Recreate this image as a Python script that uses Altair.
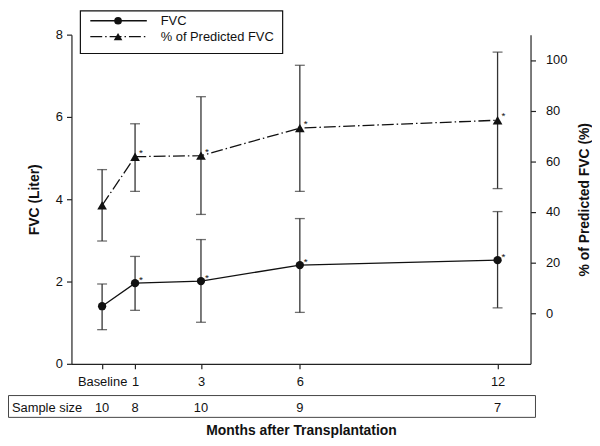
import altair as alt
import pandas as pd

# ---- data ----
months = [0, 1, 3, 6, 12]
month_labels = ["Baseline", "1", "3", "6", "12"]
fvc_mean = [1.40, 1.96, 2.01, 2.40, 2.52]
fvc_low = [0.83, 1.30, 1.01, 1.25, 1.36]
fvc_high = [1.94, 2.61, 3.02, 3.53, 3.70]
pct_mean = [42.6, 61.8, 62.2, 73.1, 76.2]
pct_low = [28.5, 48.1, 39.0, 48.1, 49.2]
pct_high = [56.7, 74.8, 85.5, 97.9, 103.1]
sample_size = [10, 8, 10, 9, 7]
significant = [False, True, True, True, True]
left_ticks = [0, 2, 4, 6, 8]
right_ticks = [0, 20, 40, 60, 80, 100]
legend_labels = ["FVC", "% of Predicted FVC"]

W, H = 463, 332
FONT = "Liberation Sans"
INK = "#111111"
BAR = "#333333"
DASH = [12, 3, 1.5, 3]

df = pd.DataFrame({
    "month": months,
    "fvc": fvc_mean, "fvc_lo": fvc_low, "fvc_hi": fvc_high,
    "pct": pct_mean, "pct_lo": pct_low, "pct_hi": pct_high,
    "n": [str(v) for v in sample_size],
    "sig": significant,
})

label_expr = " : ".join(
    [f"datum.value == {m} ? '{l}'" for m, l in zip(months, month_labels)] + ["datum.label"]
)

x_enc = alt.X(
    "month:Q",
    scale=alt.Scale(domain=[-0.93, 13.0], nice=False, zero=False),
    axis=alt.Axis(
        values=months, labelExpr=label_expr, title="Months after Transplantation",
        labelPadding=7, titlePadding=35,
    ),
)

y_left_scale = alt.Scale(domain=[0, 8], nice=False, zero=False)
y_left_axis = alt.Axis(values=left_ticks, title="FVC (Liter)", orient="left",
                       labelPadding=4, titlePadding=14)
y_right_scale = alt.Scale(domain=[-20, 110], nice=False, zero=False)
y_right_axis = alt.Axis(values=right_ticks, title="% of Predicted FVC (%)", orient="right",
                        labelPadding=10, titlePadding=11, titleAngle=270, titleBaseline="top")

base = alt.Chart(df)

# ---- FVC (left axis) ----
fvc_y = alt.Y("fvc:Q", scale=y_left_scale, axis=y_left_axis)
fvc_err = base.mark_rule(color=BAR, strokeWidth=1.3).encode(
    x=x_enc, y=alt.Y("fvc_lo:Q", scale=y_left_scale, axis=y_left_axis), y2="fvc_hi:Q")
fvc_cap_lo = base.mark_tick(orient="horizontal", size=10, thickness=1.3, color=BAR).encode(
    x=x_enc, y=alt.Y("fvc_lo:Q", scale=y_left_scale, axis=y_left_axis))
fvc_cap_hi = base.mark_tick(orient="horizontal", size=10, thickness=1.3, color=BAR).encode(
    x=x_enc, y=alt.Y("fvc_hi:Q", scale=y_left_scale, axis=y_left_axis))
fvc_line = base.mark_line(color=INK, strokeWidth=1.3).encode(x=x_enc, y=fvc_y)
fvc_pts = base.mark_point(shape="circle", filled=True, size=70, color=INK, opacity=1).encode(
    x=x_enc, y=fvc_y)
fvc_star = base.transform_filter("datum.sig").mark_text(
    text="*", dx=6, dy=-3, fontSize=10, font=FONT, color=INK).encode(x=x_enc, y=fvc_y)

# sample size row
n_text = base.mark_text(fontSize=13, font=FONT, color=INK).encode(
    x=x_enc, y=alt.value(H + 45), text="n:N")
n_label = alt.Chart(pd.DataFrame({"t": ["Sample size"]})).mark_text(
    fontSize=13, font=FONT, color=INK, align="left").encode(
    x=alt.value(-60), y=alt.value(H + 45), text="t:N")
n_box = alt.Chart(pd.DataFrame({"a": [0]})).mark_rect(
    fillOpacity=0, stroke="#444444", strokeWidth=1).encode(
    x=alt.value(-63.5), x2=alt.value(468), y=alt.value(H + 32), y2=alt.value(H + 54))

# legend
leg_df = pd.DataFrame({"a": [0]})
leg_box = alt.Chart(leg_df).mark_rect(fillOpacity=0, stroke=INK, strokeWidth=1.2).encode(
    x=alt.value(9), x2=alt.value(213), y=alt.value(-24), y2=alt.value(19))
leg_l1 = alt.Chart(leg_df).mark_rule(color=INK, strokeWidth=1.3).encode(
    x=alt.value(19), x2=alt.value(76), y=alt.value(-14))
leg_p1 = alt.Chart(leg_df).mark_point(shape="circle", filled=True, size=60, color=INK, opacity=1).encode(
    x=alt.value(47), y=alt.value(-14))
leg_t1 = alt.Chart(leg_df).mark_text(text=legend_labels[0], align="left", fontSize=13,
                                     font=FONT, color=INK).encode(x=alt.value(90), y=alt.value(-14))
leg_l2 = alt.Chart(leg_df).mark_rule(color=INK, strokeWidth=1.3, strokeDash=DASH).encode(
    x=alt.value(19), x2=alt.value(76), y=alt.value(2))
leg_p2 = alt.Chart(leg_df).mark_point(shape="triangle-up", filled=True, size=75, color=INK, opacity=1).encode(
    x=alt.value(47), y=alt.value(2))
leg_t2 = alt.Chart(leg_df).mark_text(text=legend_labels[1], align="left", fontSize=13,
                                     font=FONT, color=INK).encode(x=alt.value(90), y=alt.value(2))

left = alt.layer(fvc_err, fvc_cap_lo, fvc_cap_hi, fvc_line, fvc_pts, fvc_star,
                 n_box, n_text, n_label,
                 leg_box, leg_l1, leg_p1, leg_t1, leg_l2, leg_p2, leg_t2)

# ---- % predicted (right axis) ----
pct_y = alt.Y("pct:Q", scale=y_right_scale, axis=y_right_axis)
pct_err = base.mark_rule(color=BAR, strokeWidth=1.3).encode(
    x=x_enc, y=alt.Y("pct_lo:Q", scale=y_right_scale, axis=y_right_axis), y2="pct_hi:Q")
pct_cap_lo = base.mark_tick(orient="horizontal", size=10, thickness=1.3, color=BAR).encode(
    x=x_enc, y=alt.Y("pct_lo:Q", scale=y_right_scale, axis=y_right_axis))
pct_cap_hi = base.mark_tick(orient="horizontal", size=10, thickness=1.3, color=BAR).encode(
    x=x_enc, y=alt.Y("pct_hi:Q", scale=y_right_scale, axis=y_right_axis))
pct_line = base.mark_line(color=INK, strokeWidth=1.3, strokeDash=DASH).encode(x=x_enc, y=pct_y)
pct_pts = base.mark_point(shape="triangle-up", filled=True, size=95, color=INK, opacity=1).encode(
    x=x_enc, y=pct_y)
pct_star = base.transform_filter("datum.sig").mark_text(
    text="*", dx=6, dy=-4, fontSize=10, font=FONT, color=INK).encode(x=x_enc, y=pct_y)

right = alt.layer(pct_err, pct_cap_lo, pct_cap_hi, pct_line, pct_pts, pct_star)

chart = alt.layer(left, right).resolve_scale(y="independent").properties(
    width=W, height=H,
    autosize=alt.AutoSizeParams(type="none"),
    padding={"left": 64, "top": 25, "right": 62, "bottom": 80},
    background="white",
).configure_view(stroke=None).configure_axis(
    grid=False, domainColor="#222222", tickColor="#222222", domainWidth=1.2, tickWidth=1.2,
    tickSize=5, labelFont=FONT, labelFontSize=13, labelColor=INK,
    titleFont=FONT, titleFontSize=14, titleFontWeight="bold", titleColor=INK,
)

chart.save("out.html", embed_options={"renderer": "svg", "actions": False})
